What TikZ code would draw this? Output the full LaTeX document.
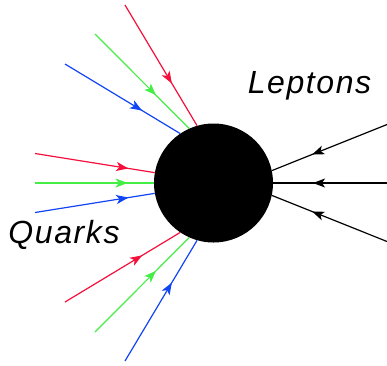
\documentclass[tikz,border=0pt]{standalone}
\usepackage{fontspec}
\newfontfamily\labelfont[LetterSpace=5]{Liberation Sans}
\usetikzlibrary{arrows.meta,decorations.markings}
\definecolor{qRed}{HTML}{F5103C}
\definecolor{qGreen}{HTML}{44EE44}
\definecolor{qBlue}{HTML}{1044F5}

\tikzset{
  leg/.style={line width=1.2pt},
  flow/.style={postaction={decorate},decoration={markings,
    mark=at position #1 with {\arrow{Stealth[length=12pt,width=9pt,inset=3pt]}}}},
  tag/.style={font=\labelfont\itshape\fontsize{32}{38}\selectfont,anchor=base,inner sep=0pt}
}

\begin{document}
\begin{tikzpicture}[x=1pt,y=1pt]
  \path[use as bounding box] (-213.5,-182) rectangle (173.5,183);
  \node[circle,fill=black,minimum size=119pt,inner sep=0pt] (blob) at (0,0) {};
  % quarks
  \foreach \ang/\xx/\yy/\col/\pp in {106/-88.5/178/qRed/0.65, 114/-118.5/149/qGreen/0.65, 124/-148.5/119/qBlue/0.67,
      170/-178.5/29.5/qRed/0.78, 180/-178.5/0/qGreen/0.78, 190/-178.5/-29.5/qBlue/0.78,
      236/-148.5/-119/qRed/0.67, 246/-118.5/-149/qGreen/0.65, 254/-88.5/-178/qBlue/0.65} {
    \coordinate (q\ang) at (\xx,\yy);
    \draw[leg,\col,flow=\pp] (q\ang) -- (blob.\ang);
  }
  % leptons
  \foreach \ang/\yy in {12/58.5, 0/0, -12/-58.5} {
    \coordinate (l\ang) at (173.5,\yy);
    \draw[leg,black,flow=0.65] (l\ang) -- (blob.\ang);
  }
  \node[tag] (leptons) at (96,90) {Leptons};
  \node[tag] (quarks) at (-149.5,-60) {Quarks};
\end{tikzpicture}
\end{document}
